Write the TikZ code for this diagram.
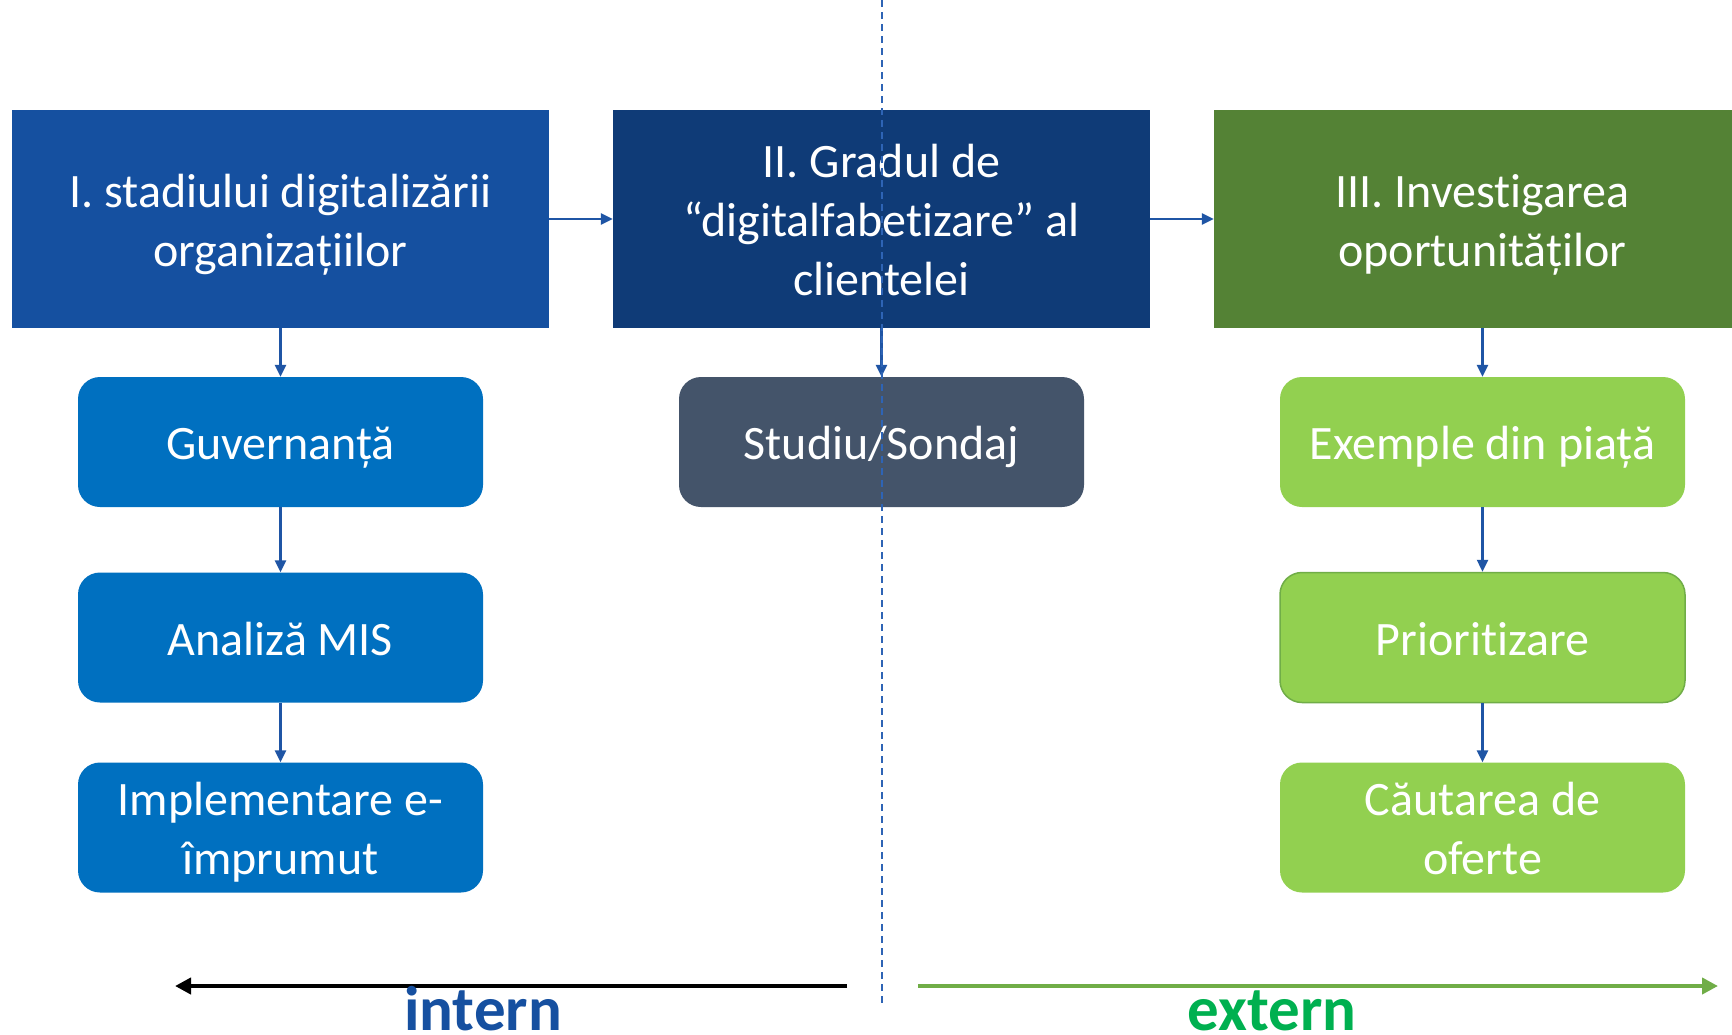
\documentclass[tikz,border=0pt]{standalone}
\usepackage{fontspec}
\setmainfont{Carlito}[Ligatures=NoCommon]
\usetikzlibrary{arrows.meta}
\definecolor{boxone}{HTML}{1550A0}
\definecolor{boxtwo}{HTML}{0F3B77}
\definecolor{boxthree}{HTML}{548235}
\definecolor{leftc}{HTML}{0070C0}
\definecolor{midc}{HTML}{44546A}
\definecolor{rightc}{HTML}{92D050}
\definecolor{rightb}{HTML}{70AD47}
\definecolor{conn}{HTML}{1F55A5}
\definecolor{dashc}{HTML}{2E64B5}
\definecolor{interncol}{HTML}{1650A0}
\definecolor{externcol}{HTML}{00B050}
\definecolor{greenarrow}{HTML}{70AD47}
\begin{document}
\begin{tikzpicture}[x=1pt,y=-1pt,
  boxtext/.style={inner sep=0pt,align=center,text=white,font=\fontsize{48}{59}\selectfont,text depth=12pt},
  oneline/.style={text height=47pt},
  twoline/.style={text height=106pt},
  threeline/.style={text height=165pt},
  head/.style={boxtext,minimum width=537pt,minimum height=218pt},
  child/.style={boxtext,rounded corners=22pt,minimum width=405pt,minimum height=130pt},
  conn/.style={draw=conn,line width=2.5pt,-{Triangle[length=12pt,width=11pt]}},
  bigarrow/.style={line width=4pt,-{Triangle[length=16pt,width=16pt]}}
]
\useasboundingbox[fill=white] (0,0) rectangle (1732,1034);
% header boxes
\node[head,twoline,fill=boxone] (h1) at (280.5,219) {I. stadiului digitalizării\\organizațiilor};
\node[head,threeline,fill=boxtwo] (h2) at (881.5,219) {II. Gradul de\\“digitalfabetizare” al\\clientelei};
\node[head,twoline,fill=boxthree] (h3) at (1482.5,219) {III. Investigarea\\oportunităților};
% left column
\node[child,oneline,fill=leftc] (l1) at (280.5,442) {Guvernanță};
\node[child,oneline,fill=leftc] (l2) at (280.5,637.5) {Analiză MIS};
\node[child,twoline,fill=leftc] (l3) at (280.5,827.5) {Implementare e-\\împrumut};
% middle
\node[child,oneline,fill=midc] (m1) at (881.5,442) {Studiu/Sondaj};
% right column
\node[child,oneline,fill=rightc] (r1) at (1482.5,442) {Exemple din piață};
\node[child,oneline,fill=rightc,draw=rightb,line width=1.5pt] (r2) at (1482.5,637.5) {Prioritizare};
\node[child,twoline,fill=rightc] (r3) at (1482.5,827.5) {Căutarea de\\oferte};
% connectors
\draw[conn] (h1.east) -- (h2.west);
\draw[conn] (h2.east) -- (h3.west);
\draw[conn] (h1.south) -- (l1.north);
\draw[conn] (l1.south) -- (l2.north);
\draw[conn] (l2.south) -- (l3.north);
\draw[conn] (h2.south) -- (m1.north);
\draw[conn] (h3.south) -- (r1.north);
\draw[conn] (r1.south) -- (r2.north);
\draw[conn] (r2.south) -- (r3.north);
% dashed divider
\coordinate (dtop) at (881.5,0);
\coordinate (dbot) at (881.5,1007);
\draw[dashc,line width=2pt,dash pattern=on 7pt off 5pt] (dtop) -- (dbot);
% bottom arrows
\coordinate (ia) at (847,986);
\coordinate (ib) at (175,986);
\coordinate (ea) at (918,986);
\coordinate (eb) at (1718,986);
\draw[bigarrow,black] (ia) -- (ib);
\draw[bigarrow,greenarrow] (ea) -- (eb);
\node[anchor=base,text=interncol,font=\fontsize{63}{65}\selectfont\bfseries] (intern) at (483,1030) {intern};
\node[anchor=base,text=externcol,font=\fontsize{63}{65}\selectfont\bfseries] (extern) at (1272,1030) {extern};
\end{tikzpicture}
\end{document}
